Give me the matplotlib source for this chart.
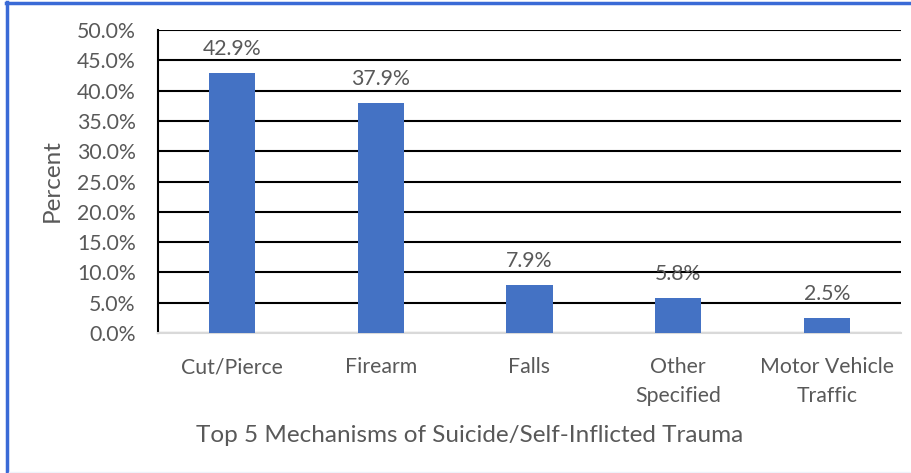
#!/usr/bin/env python3
"""Top 5 mechanisms of suicide/self-inflicted trauma, bar chart."""

import matplotlib

matplotlib.use("Agg")
import matplotlib.pyplot as plt
from matplotlib.lines import Line2D
from matplotlib.ticker import MultipleLocator, FuncFormatter

CATEGORIES = ["Cut/Pierce", "Firearm", "Falls", "Other\nSpecified", "Motor Vehicle\nTraffic"]
PERCENTS = [42.9, 37.9, 7.9, 5.8, 2.5]

BAR_COLOR = "#4472C4"
TEXT_COLOR = "#595959"
BORDER_COLOR = "#3A6AD6"

W, H = 912, 473


def main() -> None:
    plt.rcParams["font.family"] = ["Lato", "DejaVu Sans"]
    fig = plt.figure(figsize=(W / 100, H / 100), dpi=100)
    fig.patch.set_facecolor("white")

    ax = fig.add_axes([158 / W, (H - 333) / H, 743 / W, 303 / H])
    x = range(len(CATEGORIES))
    ax.bar(x, PERCENTS, width=0.31, color=BAR_COLOR, zorder=3)
    for xi, v in zip(x, PERCENTS):
        ax.annotate(f"{v:.1f}%", (xi, v), xytext=(0, 10), textcoords="offset points",
                    ha="center", va="bottom", fontsize=15.3, color=TEXT_COLOR, zorder=4)

    ax.set_xlim(-0.5, len(CATEGORIES) - 0.5)
    ax.set_ylim(0, 50)
    ax.yaxis.set_major_locator(MultipleLocator(5))
    ax.yaxis.set_major_formatter(FuncFormatter(lambda v, _: f"{v:.1f}%"))
    ax.set_xticks(list(x))
    ax.set_xticklabels(CATEGORIES, linespacing=1.55)
    ax.tick_params(axis="both", length=0, labelsize=15.3, labelcolor=TEXT_COLOR)
    ax.tick_params(axis="x", pad=17.5)
    ax.tick_params(axis="y", pad=16)

    ax.grid(axis="y", color="black", linewidth=1.5, zorder=1)
    ax.set_axisbelow(True)
    for side in ["top", "right"]:
        ax.spines[side].set_visible(False)
    ax.spines["left"].set_color("black")
    ax.spines["left"].set_linewidth(1.5)
    ax.spines["bottom"].set_color("#D9D9D9")
    ax.spines["bottom"].set_linewidth(1.5)

    fig.text(52 / W, 1 - 181 / H, "Percent", rotation=90, ha="center", va="center",
             fontsize=17.5, color=TEXT_COLOR)
    fig.text(470 / W, 1 - 435 / H, "Top 5 Mechanisms of Suicide/Self-Inflicted Trauma",
             ha="center", va="center", fontsize=17.5, color=TEXT_COLOR)

    # outer blue frame (top and left only)
    fig.add_artist(Line2D([6 / W, 1], [1 - 3.5 / H, 1 - 3.5 / H], color=BORDER_COLOR,
                          linewidth=2.5, transform=fig.transFigure))
    fig.add_artist(Line2D([7.5 / W, 7.5 / W], [1 - 2 / H, 0], color=BORDER_COLOR,
                          linewidth=2.5, transform=fig.transFigure))
    fig.add_artist(Line2D([9 / W, 1], [1.5 / H, 1.5 / H], color="#EEF2FA",
                          linewidth=1, transform=fig.transFigure))

    fig.savefig("out.png", dpi=100)
    plt.close(fig)


if __name__ == "__main__":
    main()
